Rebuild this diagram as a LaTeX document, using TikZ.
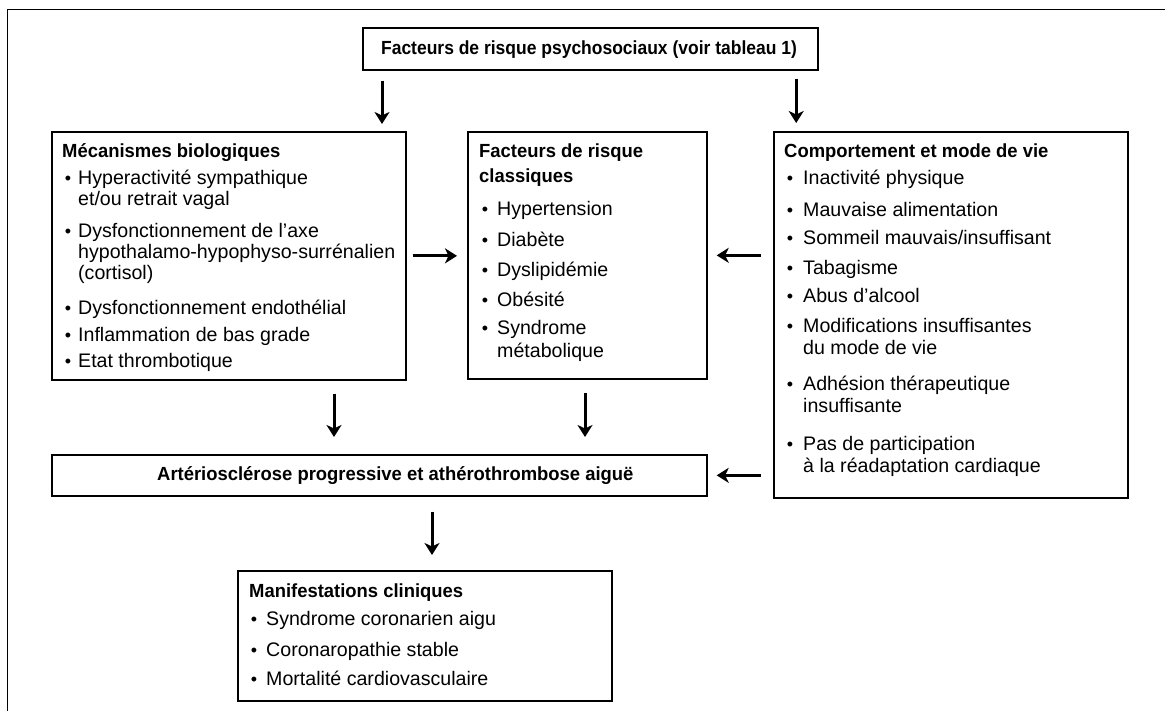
\documentclass[tikz,border=0pt]{standalone}
\usepackage{fontspec}
\setmainfont{Liberation Sans}
\newfontfamily\hbf[FakeStretch=0.97]{Liberation Sans Bold}
\newfontfamily\hbt[FakeStretch=0.92]{Liberation Sans Bold}
\usetikzlibrary{arrows.meta}
\begin{document}
\begin{tikzpicture}[x=1pt,y=-1pt,
  box/.style={draw, line width=1.7pt, anchor=north west, inner sep=0pt, rectangle},
  tx/.style={anchor=base west, inner sep=0pt, font=\fontsize{19.6}{21}\selectfont},
  bl/.style={anchor=base, inner sep=0pt, font=\fontsize{18}{21}\selectfont},
  hd/.style={anchor=base west, inner sep=0pt, font=\fontsize{19}{21}\selectfont\hbf},
  arr/.style={line width=3pt, -{Stealth[length=12pt,width=15pt,inset=3.5pt]}}]
\fill[white] (0,0) rectangle (1165,711);
\useasboundingbox (0,0) rectangle (1165,711);
\draw[line width=1pt] (7.5,711) -- (7.5,9.5) -- (1165,9.5);

% boxes
\node[box, minimum width=455pt, minimum height=42pt] (top) at (362,27) {};
\node[box, minimum width=354pt, minimum height=248pt] (lb) at (51,131) {};
\node[box, minimum width=239pt, minimum height=247pt] (mb) at (467,131) {};
\node[box, minimum width=354pt, minimum height=366pt] (rb) at (773,131) {};
\node[box, minimum width=655pt, minimum height=41pt] (ab) at (51,454) {};
\node[box, minimum width=374pt, minimum height=130pt] (mcb) at (237,570) {};

% texts
\node[anchor=base, inner sep=0pt, font=\fontsize{19}{21}\selectfont\hbt] (ttl) at (589,55) {Facteurs de risque psychosociaux (voir tableau 1)};
\node[hd] (atx) at (157,480) {Artériosclérose progressive et athérothrombose aiguë};

% left box
\node[hd] (lh) at (62,158) {Mécanismes biologiques};
\node[bl] (lb1) at (68,185) {•}; \node[tx] (l1a) at (78,185) {Hyperactivité sympathique};
\node[tx] (l1b) at (78,206) {et/ou retrait vagal};
\node[bl] (lb2) at (68,238) {•}; \node[tx] (l2a) at (78,238) {Dysfonctionnement de l’axe};
\node[tx] (l2b) at (78,259) {hypothalamo-hypophyso-surrénalien};
\node[tx] (l2c) at (78,280) {(cortisol)};
\node[bl] (lb3) at (68,315) {•}; \node[tx] (l3) at (78,315) {Dysfonctionnement endothélial};
\node[bl] (lb4) at (68,342) {•}; \node[tx] (l4) at (78,342) {Inflammation de bas grade};
\node[bl] (lb5) at (68,367) {•}; \node[tx] (l5) at (78,367) {Etat thrombotique};

% middle box
\node[hd] (mh1) at (479,158) {Facteurs de risque};
\node[hd] (mh2) at (479,183) {classiques};
\node[bl] (mb1) at (485,216) {•}; \node[tx] (m1) at (497,216) {Hypertension};
\node[bl] (mb2) at (485,247) {•}; \node[tx] (m2) at (497,247) {Diabète};
\node[bl] (mb3) at (485,277) {•}; \node[tx] (m3) at (497,277) {Dyslipidémie};
\node[bl] (mb4) at (485,307) {•}; \node[tx] (m4) at (497,307) {Obésité};
\node[bl] (mb5) at (485,335) {•}; \node[tx] (m5a) at (497,335) {Syndrome};
\node[tx] (m5b) at (497,357) {métabolique};

% right box
\node[hd] (rh) at (784,158) {Comportement et mode de vie};
\node[bl] (rb1) at (790,185) {•}; \node[tx] (r1) at (803,185) {Inactivité physique};
\node[bl] (rb2) at (790,217) {•}; \node[tx] (r2) at (803,217) {Mauvaise alimentation};
\node[bl] (rb3) at (790,245) {•}; \node[tx] (r3) at (803,245) {Sommeil mauvais/insuffisant};
\node[bl] (rb4) at (790,275) {•}; \node[tx] (r4) at (803,275) {Tabagisme};
\node[bl] (rb5) at (790,303) {•}; \node[tx] (r5) at (803,303) {Abus d’alcool};
\node[bl] (rb6) at (790,333) {•}; \node[tx] (r6a) at (803,333) {Modifications insuffisantes};
\node[tx] (r6b) at (803,355) {du mode de vie};
\node[bl] (rb7) at (790,390) {•}; \node[tx] (r7a) at (803,390) {Adhésion thérapeutique};
\node[tx] (r7b) at (803,412) {insuffisante};
\node[bl] (rb8) at (790,450) {•}; \node[tx] (r8a) at (803,450) {Pas de participation};
\node[tx] (r8b) at (803,472) {à la réadaptation cardiaque};

% manifestations
\node[hd] (ch) at (249,597) {Manifestations cliniques};
\node[bl] (cb1) at (254,625) {•}; \node[tx] (c1) at (266,625) {Syndrome coronarien aigu};
\node[bl] (cb2) at (254,656) {•}; \node[tx] (c2) at (266,656) {Coronaropathie stable};
\node[bl] (cb3) at (254,685) {•}; \node[tx] (c3) at (266,685) {Mortalité cardiovasculaire};

% arrows
\coordinate (a1) at ([xshift=20pt]top.south west);
\coordinate (a2) at ([xshift=-22.5pt]top.south east);
\draw[arr, shorten <=10pt, shorten >=7pt] (a1) -- (a1 |- lb.north);
\draw[arr, shorten <=8pt, shorten >=8pt] (a2) -- (a2 |- rb.north);
\draw[arr, shorten <=6pt, shorten >=10pt] (lb.east) -- (lb.east -| mb.west);
\draw[arr, shorten <=12pt, shorten >=9pt] (rb.west |- mb.east) -- (mb.east);
\draw[arr, shorten <=12pt, shorten >=9pt] (rb.west |- ab.east) -- (ab.east);
\coordinate (a6) at ([xshift=283pt]lb.south west);
\coordinate (a7) at ([xshift=118pt]mb.south west);
\coordinate (a8) at ([xshift=381pt]ab.south west);
\draw[arr, shorten <=13pt, shorten >=17pt] (a6) -- (a6 |- ab.north);
\draw[arr, shorten <=13pt, shorten >=17pt] (a7) -- (a7 |- ab.north);
\draw[arr, shorten <=15pt, shorten >=15pt] (a8) -- (a8 |- mcb.north);
\end{tikzpicture}
\end{document}
